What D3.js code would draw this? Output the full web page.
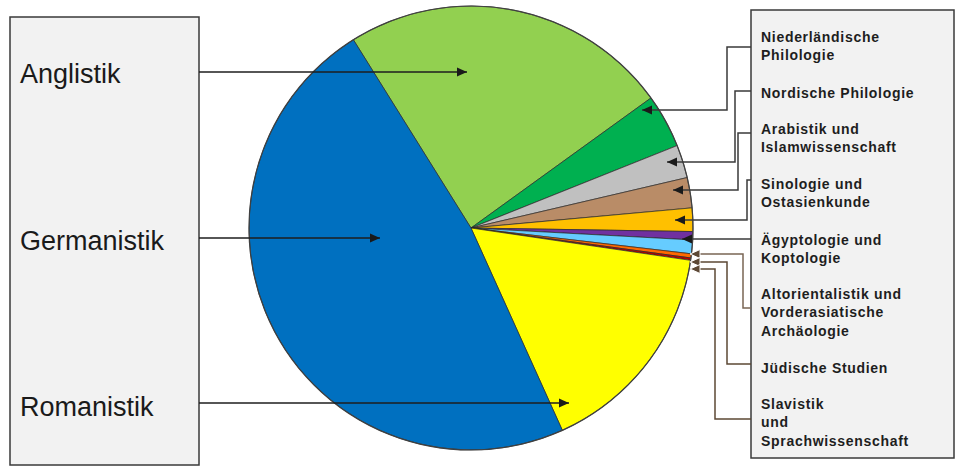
<!DOCTYPE html>
<html>
<head>
<meta charset="utf-8">
<script src="https://cdn.jsdelivr.net/npm/d3@7/dist/d3.min.js"></script>
<style>
  html, body { margin: 0; padding: 0; background: #ffffff; }
  svg { display: block; }
</style>
</head>
<body>
<svg id="chart" width="962" height="471"></svg>
<script>
// ---- data ----
const categories = [
  "Anglistik", "Niederländische Philologie", "Nordische Philologie",
  "Arabistik und Islamwissenschaft", "Sinologie und Ostasienkunde",
  "Ägyptologie und Koptologie", "Altorientalistik und Vorderasiatische Archäologie",
  "Jüdische Studien", "Slavistik und Sprachwissenschaft", "Romanistik", "Germanistik"
];
const values = [23.9, 3.9, 2.4, 2.2, 1.7, 0.6, 1.0, 0.3, 0.17, 15.9, 47.8];
const colors = ["#92d050", "#00b050", "#c0c0c0", "#b98c67", "#ffc000",
                "#7030a0", "#66ccff", "#ff6a00", "#c00000", "#ffff00", "#0070c0"];
const leftLabels = ["Anglistik", "Germanistik", "Romanistik"];
const rightLabels = [
  ["Niederländische", "Philologie"],
  ["Nordische Philologie"],
  ["Arabistik und", "Islamwissenschaft"],
  ["Sinologie und", "Ostasienkunde"],
  ["Ägyptologie und", "Koptologie"],
  ["Altorientalistik und", "Vorderasiatische", "Archäologie"],
  ["Jüdische Studien"],
  ["Slavistik", "und", "Sprachwissenschaft"]
];

// ---- layout ----
const svg = d3.select("#chart");
const cx = 471, cy = 228, R = 222;
const startDeg = -32;

const defs = svg.append("defs");
function marker(id, fill, stroke) {
  defs.append("marker")
    .attr("id", id).attr("viewBox", "-1 -6 13 12")
    .attr("markerUnits", "userSpaceOnUse")
    .attr("markerWidth", 13).attr("markerHeight", 12)
    .attr("refX", 10).attr("refY", 0).attr("orient", "auto")
    .append("path").attr("d", "M0,-4.5L10,0L0,4.5Z")
    .attr("fill", fill).attr("stroke", stroke || "none").attr("stroke-width", stroke ? 1 : 0);
}
marker("arrDark", "#1a1a1a");
marker("arrBrown", "#5c4835", "#ffffff");

// left box
svg.append("rect").attr("x", 10).attr("y", 17).attr("width", 189).attr("height", 448)
  .attr("fill", "#f2f2f2").attr("stroke", "#3a3a3a").attr("stroke-width", 1.5);
// right box
svg.append("rect").attr("x", 751).attr("y", 10).attr("width", 203).attr("height", 448)
  .attr("fill", "#f2f2f2").attr("stroke", "#3a3a3a").attr("stroke-width", 1.5);

// pie
const pie = d3.pie().sort(null).value(d => d)
  .startAngle(startDeg * Math.PI / 180)
  .endAngle(startDeg * Math.PI / 180 + 2 * Math.PI);
const arcs = pie(values);
const arc = d3.arc().innerRadius(0).outerRadius(R);
const g = svg.append("g").attr("transform", `translate(${cx},${cy})`);
g.selectAll("path.slice").data(arcs).join("path")
  .attr("class", "slice")
  .attr("d", arc)
  .attr("fill", (d, i) => colors[i])
  .attr("stroke", "#2b2b2b").attr("stroke-width", 0.7).attr("stroke-linejoin", "round");
g.append("circle").attr("r", R).attr("fill", "none").attr("stroke", "#404040").attr("stroke-width", 1.2);

// left labels and arrows
const leftLabelY = [83, 250, 416];
const leftArrowY = [72, 238, 403];
const leftArrowTipX = [467, 380, 569];
leftLabels.forEach((t, i) => {
  svg.append("text").attr("x", 20).attr("y", leftLabelY[i])
    .attr("font-family", "Liberation Sans, Arial, sans-serif").attr("font-size", 27)
    .attr("fill", "#1a1a1a").text(t);
  svg.append("line").attr("x1", 199).attr("y1", leftArrowY[i])
    .attr("x2", leftArrowTipX[i]).attr("y2", leftArrowY[i])
    .attr("stroke", "#1e1e1e").attr("stroke-width", 1.5)
    .attr("marker-end", "url(#arrDark)");
});

// right labels
const rightBaseY = [42, 98, 134, 189, 245, 299, 373, 409];
rightLabels.forEach((lines, i) => {
  const t = svg.append("text")
    .attr("font-family", "Liberation Sans, Arial, sans-serif").attr("font-size", 14)
    .attr("font-weight", "bold").attr("letter-spacing", "0.7px").attr("fill", "#1e1e1e");
  lines.forEach((ln, j) => {
    t.append("tspan").attr("x", 761).attr("y", rightBaseY[i] + j * 18.3).text(ln);
  });
});

// right connectors: [boxY, elbowX, tipY, tipX]
const conn = [
  [47, 727, 110, 642],
  [91, 735, 162, 667],
  [133, 738, 190, 673],
  [180, 747, 220, 675],
  [239, null, 239, 682],
  [308, 743, 254, 690],
  [364, 727, 262, 690],
  [419, 715, 269, 690]
];
conn.forEach((c, i) => {
  const [by, ex, ty, tx] = c;
  const pts = ex === null ? [[751, by], [tx, ty]] : [[751, by], [ex, by], [ex, ty], [tx, ty]];
  const brown = i >= 5;
  svg.append("path")
    .attr("d", d3.line()(pts))
    .attr("fill", "none")
    .attr("stroke", brown ? (i === 5 ? "#7a6654" : "#5c4835") : "#3a3a3a")
    .attr("stroke-width", 1.5)
    .attr("marker-end", brown ? "url(#arrBrown)" : "url(#arrDark)");
});
</script>
</body>
</html>
